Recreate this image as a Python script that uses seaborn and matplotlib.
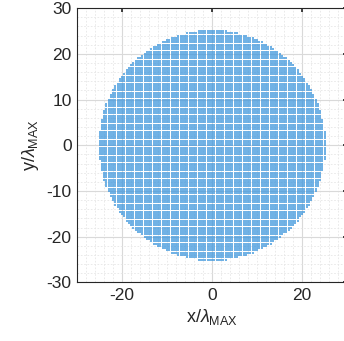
import numpy as np
import pandas as pd
import matplotlib
matplotlib.use("Agg")
import matplotlib.pyplot as plt
import seaborn as sns

# Array layout: regular lattice of elements inside a circular aperture
grid_step = 0.5          # element spacing in units of lambda_MAX
aperture_radius = 25.2   # aperture radius in units of lambda_MAX
axis_limits = [-30, 30]
major_ticks = [-30, -20, -10, 0, 10, 20, 30]

coords = np.arange(-25.0, 25.0 + grid_step / 2, grid_step)
xx, yy = np.meshgrid(coords, coords)
inside = xx**2 + yy**2 <= aperture_radius**2
df = pd.DataFrame({"x": xx[inside], "y": yy[inside]})

sns.set_theme(style="white")
plt.rcParams["font.family"] = ["Liberation Sans", "DejaVu Sans"]
plt.rcParams["mathtext.fontset"] = "custom"
plt.rcParams["mathtext.rm"] = "Liberation Sans"
plt.rcParams["mathtext.it"] = "Liberation Sans:italic"
plt.rcParams["axes.unicode_minus"] = False

fig = plt.figure(figsize=(3.44, 3.41), dpi=100)
ax = fig.add_axes([0.224, 0.172, 0.785, 0.804])

sns.scatterplot(data=df, x="x", y="y", ax=ax, s=2.0, color="#3a94dc",
                linewidth=0, marker="s", alpha=0.72, rasterized=True, zorder=3)

ax.set_xlim(axis_limits)
ax.set_ylim(axis_limits)
ax.set_xticks([-20, 0, 20])
ax.set_yticks(major_ticks)
ax.set_xticks(np.arange(-30, 31, 2), minor=True)
ax.set_yticks(np.arange(-30, 31, 2), minor=True)
ax.grid(True, which="major", color="#d9d9d9", linewidth=0.8, zorder=0)
ax.grid(True, which="minor", color="#e6e6e6", linewidth=0.6, linestyle=(0, (2, 2)), zorder=0)
ax.set_axisbelow(True)
ax.tick_params(which="both", direction="in", labelsize=12.5, colors="#262626",
               top=True, right=True, length=3, pad=4)
ax.tick_params(which="minor", length=0)
for sp in ax.spines.values():
    sp.set_color("#262626")
    sp.set_linewidth(0.8)

ax.set_xlabel(r"x/$\lambda_{\mathrm{MAX}}$", fontsize=13, color="#262626", labelpad=3)
ax.set_ylabel(r"y/$\lambda_{\mathrm{MAX}}$", fontsize=13, color="#262626", labelpad=4)

fig.savefig("out.png", dpi=100)
